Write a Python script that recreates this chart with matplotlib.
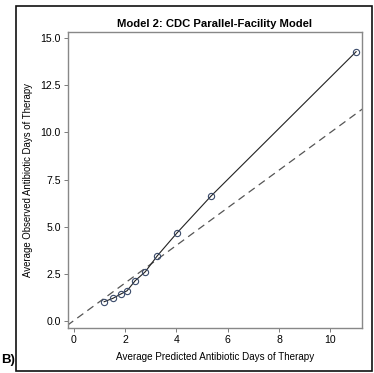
import matplotlib.pyplot as plt
from matplotlib.patches import Rectangle

plt.rcParams['font.family'] = ['Liberation Sans', 'DejaVu Sans']

# Calibration points
predicted = [1.19, 1.53, 1.84, 2.08, 2.40, 2.79, 3.26, 4.03, 5.35, 11.0]
observed = [1.01, 1.19, 1.42, 1.59, 2.13, 2.60, 3.45, 4.67, 6.62, 14.29]
ref_line = [-0.25, 11.25]

xticks = [0, 2, 4, 6, 8, 10]
yticks = [0.0, 2.5, 5.0, 7.5, 10.0, 12.5, 15.0]

fig = plt.figure(figsize=(3.74, 3.73), dpi=100)
ax = fig.add_axes([67.7 / 374, 1 - 327.7 / 373, (362 - 67.7) / 374, (327.7 - 32.3) / 373])

ax.plot(ref_line, ref_line, color='#555555', lw=0.9, ls=(0, (6, 4)))
ax.plot(predicted, observed, color='#222222', lw=0.8, marker='o', ms=4.5,
        mfc='none', mec='#3a4a6a', mew=0.8)

ax.set_xlim(-0.23, 11.23)
ax.set_ylim(-0.37, 15.32)
ax.set_xticks(xticks)
ax.set_xticklabels([str(t) for t in xticks])
ax.set_yticks(yticks)
ax.set_yticklabels([f'{t:.1f}' for t in yticks])
ax.tick_params(labelsize=7.6, length=3, width=0.6, color='#666666', pad=2)

for s in ax.spines.values():
    s.set_color('#888888')
    s.set_linewidth(1.0)

ax.set_xlabel('Average Predicted Antibiotic Days of Therapy', fontsize=7.1, labelpad=5)
ax.set_ylabel('Average Observed Antibiotic Days of Therapy', fontsize=6.9, labelpad=5)
ax.set_title('Model 2: CDC Parallel-Facility Model', fontsize=8.1, fontweight='bold', pad=4)

fig.patches.append(Rectangle((15.5 / 374, 1 - 370.5 / 373), (372 - 15.5) / 374, (370.5 - 6) / 373,
                             transform=fig.transFigure, fill=False, ec='#111111', lw=1.2))
fig.text(0.002, 1 - 360 / 373, 'B)', fontsize=9.5, fontweight='bold', va='center')

fig.savefig('out.png', dpi=100)
